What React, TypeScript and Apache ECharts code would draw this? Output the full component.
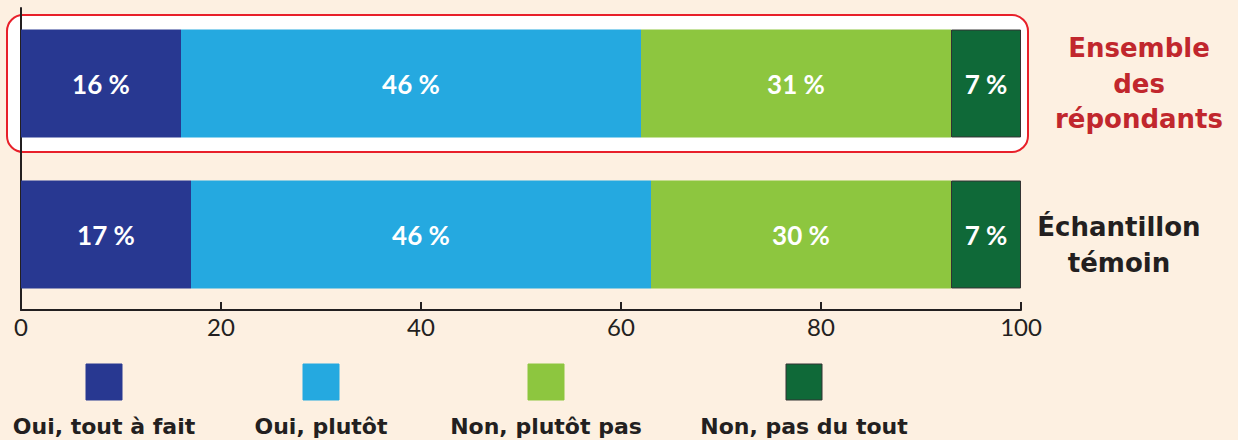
import React, { useEffect, useRef } from "react";
import * as echarts from "echarts";

const categories = ["Ensemble\ndes\nrépondants", "Échantillon\ntémoin"];
const seriesNames = ["Oui, tout à fait", "Oui, plutôt", "Non, plutôt pas", "Non, pas du tout"];
const ouiToutAFait = [16, 17];
const ouiPlutot = [46, 46];
const nonPlutotPas = [31, 30];
const nonPasDuTout = [7, 7];
const xTicks = [0, 20, 40, 60, 80, 100];

const colors = ["#283891", "#25A9E0", "#8DC63F", "#0F6938"];
const FONT = "Lato, 'Noto Sans', sans-serif";
const WIDE = "'DejaVu Sans', sans-serif";

export default function App() {
  const ref = useRef<HTMLDivElement>(null);
  useEffect(() => {
    if (!ref.current) return;
    const chart = echarts.init(ref.current, undefined, { renderer: "svg" });
    const values = [ouiToutAFait, ouiPlutot, nonPlutotPas, nonPasDuTout];
    const legendX = [104, 321, 546, 804];
    const legendEls: any[] = [];
    seriesNames.forEach((n, i) => {
      legendEls.push({
        type: "rect",
        shape: { x: legendX[i] - 18, y: 364, width: 36, height: 36 },
        style: { fill: colors[i], stroke: i === 3 ? "#333" : colors[i], lineWidth: 1 },
      });
      legendEls.push({
        type: "text",
        x: legendX[i],
        y: 426,
        style: {
          text: n,
          fill: "#231F20",
          font: `bold 22px ${WIDE}`,
          align: "center",
          verticalAlign: "middle",
        },
      });
    });
    chart.setOption({
      animation: false,
      backgroundColor: "#FDF0E1",
      grid: { left: 21, right: 217, top: 8, bottom: 130, outerBoundsMode: "none", containLabel: false },
      xAxis: {
        type: "value",
        min: 0,
        max: 100,
        interval: 20,
        splitLine: { show: false },
        axisLine: { show: true, lineStyle: { color: "#231F20", width: 2 } },
        axisTick: { show: true, inside: true, length: 8, lineStyle: { color: "#231F20", width: 2 } },
        axisLabel: {
          color: "#231F20",
          fontSize: 24,
          fontFamily: FONT,
          margin: 4,
          formatter: (v: number) => (xTicks.includes(v) ? String(v) : ""),
        },
      },
      yAxis: [
        {
          type: "category",
          data: categories,
          inverse: true,
          position: "right",
          axisLine: { show: false },
          axisTick: { show: false },
          axisLabel: {
            align: "center",
            margin: 118,
            formatter: (v: string, i: number) => {
              const lines = v.split("\n");
              if (i === 0) return lines.map((l) => `{r|${l}}`).join("\n");
              return "{s| }\n" + lines.map((l) => `{k|${l}}`).join("\n");
            },
            rich: {
              r: { color: "#C1272D", fontSize: 26, fontWeight: "bold", fontFamily: WIDE, lineHeight: 35.5 },
              k: { color: "#231F20", fontSize: 26, fontWeight: "bold", fontFamily: WIDE, lineHeight: 36, padding: [0, 40, 0, 0] },
              s: { fontSize: 2, lineHeight: 20 },
            },
          },
        },
        {
          type: "category",
          data: categories,
          inverse: true,
          position: "left",
          axisLine: { show: true, lineStyle: { color: "#231F20", width: 2 } },
          axisTick: { show: false },
          axisLabel: { show: false },
        },
      ],
      graphic: {
        elements: [
          {
            type: "rect",
            z: -10,
            shape: { x: 7, y: 15, width: 1021, height: 137, r: 16 },
            style: { fill: "#FFFFFF", stroke: "#E8202A", lineWidth: 2 },
          },
          ...legendEls,
        ],
      },
      series: seriesNames.map((n, i) => ({
        name: n,
        type: "bar",
        stack: "total",
        yAxisIndex: 0,
        barCategoryGap: "28.5%",
        data: values[i],
        itemStyle: {
          color: colors[i],
          borderColor: i === 3 ? "#333" : undefined,
          borderWidth: i === 3 ? 1 : 0,
        },
        label: {
          show: true,
          position: "inside",
          color: "#FFFFFF",
          fontSize: 26,
          fontWeight: "bold",
          fontFamily: FONT,
          formatter: "{c} %",
        },
      })),
    });
    return () => chart.dispose();
  }, []);
  return <div ref={ref} style={{ width: 1238, height: 440, position: "absolute", left: 0, top: 0 }} />;
}
